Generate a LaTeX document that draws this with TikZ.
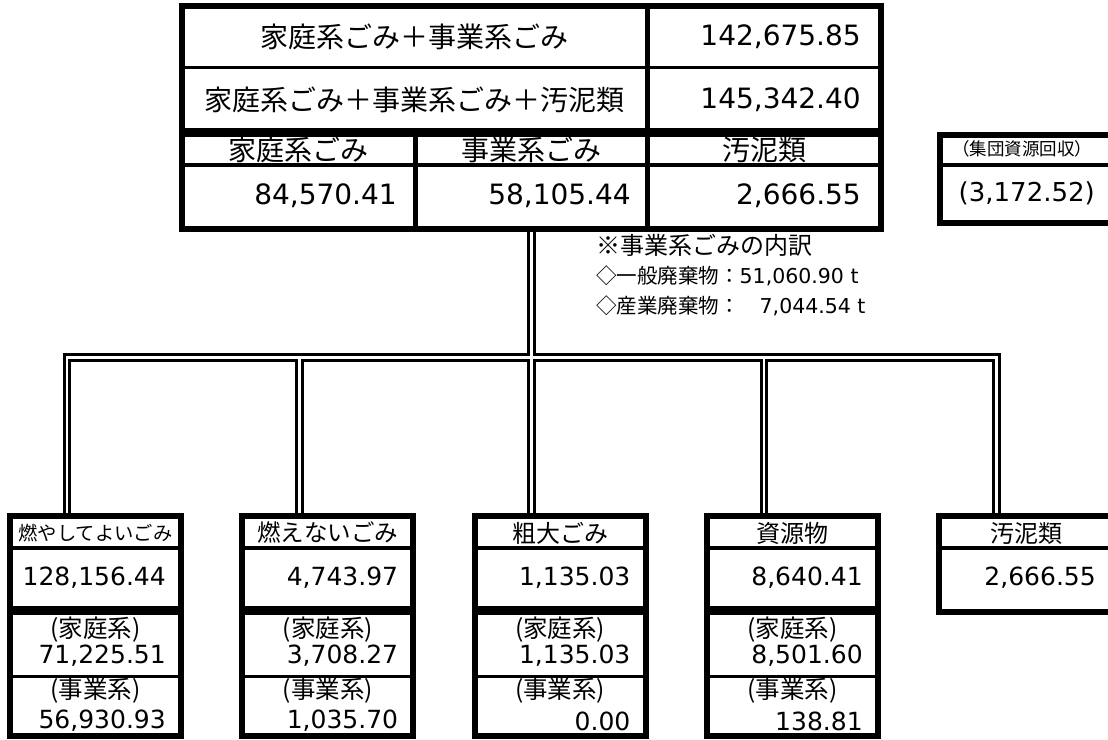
\documentclass[tikz,border=0pt]{standalone}
\usepackage{fontspec}
\setmainfont{DejaVu Sans}
\newfontfamily\jp{Noto Sans CJK JP}

\begin{document}
\begin{tikzpicture}[x=1pt,y=-1pt,
	box/.style={draw,line width=6pt,anchor=north west,inner sep=0pt},
	sep/.style={line width=3.5pt},
	pipe/.style={draw,line width=3pt,double distance=2.6pt},
	lbl/.style={inner sep=0pt,font=\jp\fontsize{#1}{#1}\selectfont},
	num/.style={inner sep=0pt,anchor=east,font=\fontsize{#1}{#1}\selectfont}]
	\useasboundingbox (0,0) rectangle (1108,739);
	\clip (0,0) rectangle (1108,739);
	\node[box,minimum width=699pt,minimum height=125.5pt] (sum) at (179,2.5) {};
	\node[box,minimum width=699pt,minimum height=95pt] (tbl) at (179,131) {};
	\draw[sep] (182,67.5)--(881,67.5) (182,165)--(881,165);
	\draw[line width=5pt] (647,5.5)--(647,131) (415,134)--(415,229) (647,134)--(647,229);
	\node[lbl=28] (t1) at (414.5,37) {家庭系ごみ＋事業系ごみ};
	\node[num=28] (v1) at (861,37) {142,675.85};
	\node[lbl=28] (t2) at (414.5,100) {家庭系ごみ＋事業系ごみ＋汚泥類};
	\node[num=28] (v2) at (861,100) {145,342.40};
	\node[lbl=28] (hh) at (298.5,150) {家庭系ごみ};
	\node[lbl=28] (hb) at (531,150) {事業系ごみ};
	\node[lbl=28] (hs) at (764,150) {汚泥類};
	\node[num=28] (vh) at (397,196) {84,570.41};
	\node[num=28] (vb) at (631,196) {58,105.44};
	\node[num=28] (vs) at (861,196) {2,666.55};
	\node[box,minimum width=180pt,minimum height=88.5pt] (grp) at (936.5,131.5) {};
	\draw[sep] (939.5,165)--(1120,165);
	\node[lbl=17.5] (grpt) at (1022,149) {（集団資源回収）};
	\node[num=26] (grpv) at (1095,193) {(3,172.52)};
	\node[lbl=24,anchor=west] (note) at (596,245) {※事業系ごみの内訳};
	\node[anchor=west,inner sep=0pt,font=\fontsize{20.5}{20.5}\selectfont] (gen) at (596,276) {{\jp ◇一般廃棄物：}51,060.90 t};
	\node[anchor=west,inner sep=0pt,font=\fontsize{20.5}{20.5}\selectfont] (ind) at (596,306) {{\jp ◇産業廃棄物：}\hspace{20pt}7,044.54 t};
	\foreach \ii/\hd/\hs/\tot/\hv/\bv in {0/燃やしてよいごみ/19.3/{128,156.44}/{71,225.51}/{56,930.93},
		1/燃えないごみ/23.5/{4,743.97}/{3,708.27}/{1,035.70},
		2/粗大ごみ/24/{1,135.03}/{1,135.03}/{0.00},
		3/資源物/24/{8,640.41}/{8,501.60}/{138.81}}
	{
		\pgfmathsetmacro\L{7+232.3*\ii}
		\node[box,minimum width=171pt,minimum height=93pt] (up\ii) at (\L,513) {};
		\node[box,minimum width=171pt,minimum height=124pt] (lo\ii) at (\L,609) {};
		\draw[sep] (\L+3,548)--(\L+174,548) (\L+3,676.5)--(\L+174,676.5);
		\node[lbl=\hs] (hd\ii) at (\L+88.5,533) {\hd};
		\node[num=25] (tot\ii) at (\L+159,578) {\tot};
		\node[lbl=24.5] (hl\ii) at (\L+88.5,630) {(家庭系)};
		\node[num=25] (hv\ii) at (\L+159,656) {\hv};
		\node[lbl=24.5] (bl\ii) at (\L+88.5,691) {(事業系)};
		\node[num=25] (bv\ii) at (\L+159,721) {\bv};
		\coordinate (in\ii) at ([xshift=60pt]up\ii.north west);
	}
	\node[box,minimum width=180pt,minimum height=96pt] (up4) at (936.2,513) {};
	\draw[sep] (939.2,548)--(1120,548);
	\node[lbl=24] (hd4) at (1026,533) {汚泥類};
	\node[num=25] (tot4) at (1096,578) {2,666.55};
	\coordinate (in4) at ([xshift=60pt]up4.north west);
	\coordinate (bus) at (0,357.5);
	\draw[pipe] (in0)--(in0 |- bus)--(in4 |- bus)--(in4)
		(in2 |- tbl.south)--(in2)
		(in1 |- bus)--(in1)
		(in3 |- bus)--(in3);
\end{tikzpicture}
\end{document}
